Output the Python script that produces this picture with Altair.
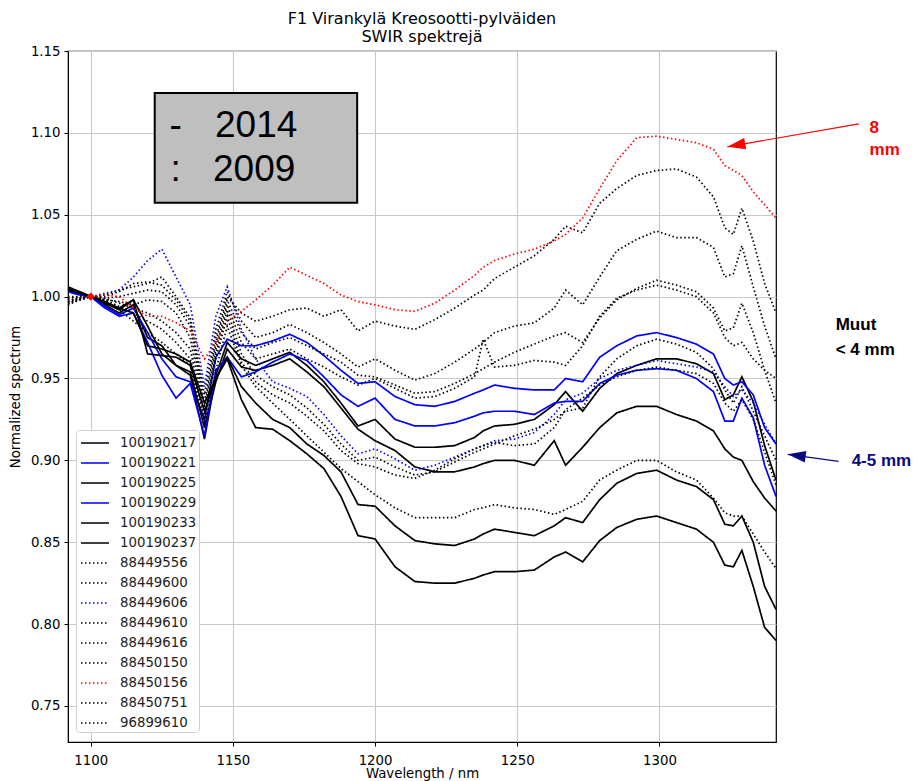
import altair as alt
import pandas as pd

# ---------------- data ----------------
wavelength = [1092, 1096, 1100, 1105, 1110, 1115, 1120, 1125, 1130, 1135, 1140, 1144, 1148,
              1153, 1158, 1164, 1170, 1176, 1182, 1188,
              1194, 1200, 1207, 1214, 1221, 1228, 1235, 1238, 1242, 1249, 1256, 1263, 1267,
              1273, 1279, 1285, 1292, 1299, 1306, 1313, 1319, 1323, 1326, 1329, 1333, 1337, 1341]

series_names = ["100190217", "100190221", "100190225", "100190229", "100190233", "100190237",
                "88449556", "88449600", "88449606", "88449610", "88449616", "88450150",
                "88450156", "88450751", "96899610"]
series_colors = ["#000000", "#0000ff", "#000000", "#0000ff", "#000000", "#000000",
                 "#000000", "#000000", "#0000ff", "#000000", "#000000", "#000000",
                 "#ff0000", "#000000", "#000000"]
solid = [1, 0]
dotted = [1.5, 2.5]
series_dashes = [solid] * 6 + [dotted] * 9

s_100190217 = [1.006, 1.003, 1.000, 0.995, 0.990, 0.995, 0.975, 0.970, 0.958, 0.952, 0.913, 0.952, 0.972,
               0.962, 0.958, 0.962, 0.966, 0.958, 0.948, 0.935,
               0.921, 0.925, 0.913, 0.908, 0.908, 0.909, 0.914, 0.918, 0.921, 0.922, 0.925, 0.934, 0.942,
               0.930, 0.944, 0.953, 0.958, 0.962, 0.962, 0.959, 0.953, 0.937, 0.940, 0.951, 0.936, 0.909, 0.888]
s_100190221 = [1.003, 1.001, 1.000, 0.994, 0.989, 0.993, 0.978, 0.962, 0.951, 0.948, 0.925, 0.963, 0.974,
               0.970, 0.970, 0.973, 0.977, 0.972, 0.964, 0.955,
               0.947, 0.948, 0.939, 0.934, 0.933, 0.936, 0.941, 0.943, 0.946, 0.944, 0.943, 0.943, 0.950,
               0.948, 0.963, 0.970, 0.976, 0.978, 0.975, 0.971, 0.965, 0.950, 0.946, 0.948, 0.940, 0.920, 0.910]
s_100190225 = [1.005, 1.003, 1.000, 0.996, 0.993, 0.998, 0.982, 0.965, 0.958, 0.954, 0.920, 0.948, 0.968,
               0.957, 0.955, 0.958, 0.962, 0.954, 0.945, 0.932,
               0.919, 0.912, 0.906, 0.896, 0.893, 0.893, 0.896, 0.898, 0.900, 0.900, 0.897, 0.912, 0.897,
               0.908, 0.920, 0.929, 0.933, 0.933, 0.928, 0.924, 0.918, 0.907, 0.902, 0.900, 0.887, 0.877, 0.869]
s_100190229 = [1.004, 1.002, 1.000, 0.993, 0.988, 0.990, 0.972, 0.952, 0.938, 0.947, 0.915, 0.955, 0.963,
               0.951, 0.954, 0.960, 0.965, 0.961, 0.951, 0.940,
               0.933, 0.938, 0.925, 0.921, 0.921, 0.923, 0.927, 0.929, 0.930, 0.930, 0.928, 0.935, 0.936,
               0.936, 0.947, 0.952, 0.955, 0.956, 0.955, 0.950, 0.942, 0.924, 0.924, 0.938, 0.926, 0.897, 0.878]
s_100190233 = [1.004, 1.002, 1.000, 0.996, 0.992, 0.998, 0.965, 0.964, 0.963, 0.958, 0.930, 0.950, 0.963,
               0.945, 0.935, 0.925, 0.920, 0.910, 0.903, 0.893,
               0.873, 0.872, 0.860, 0.851, 0.849, 0.848, 0.852, 0.855, 0.858, 0.856, 0.854, 0.860, 0.865,
               0.862, 0.876, 0.886, 0.892, 0.894, 0.888, 0.884, 0.876, 0.861, 0.860, 0.866, 0.850, 0.823, 0.809]
s_100190237 = [1.005, 1.003, 1.000, 0.997, 0.993, 0.990, 0.970, 0.968, 0.965, 0.960, 0.935, 0.950, 0.962,
               0.937, 0.920, 0.919, 0.912, 0.904, 0.895, 0.878,
               0.854, 0.852, 0.835, 0.826, 0.825, 0.825, 0.828, 0.830, 0.832, 0.832, 0.833, 0.841, 0.844,
               0.838, 0.851, 0.859, 0.864, 0.866, 0.862, 0.858, 0.850, 0.836, 0.835, 0.845, 0.823, 0.798, 0.790]
s_88449556 = [1.000, 1.000, 1.000, 1.000, 1.003, 1.008, 1.009, 1.007, 0.998, 0.985, 0.935, 0.975, 1.000,
              0.990, 0.985, 0.988, 0.992, 0.993, 0.988, 0.992,
              0.979, 0.985, 0.982, 0.980, 0.986, 0.993, 1.001, 1.004, 1.011, 1.018, 1.025, 1.035, 1.043,
              1.039, 1.057, 1.066, 1.074, 1.077, 1.078, 1.073, 1.061, 1.042, 1.038, 1.054, 1.034, 1.008, 0.990]
s_88449600 = [0.996, 0.998, 1.000, 1.001, 1.004, 1.006, 1.008, 1.012, 1.000, 0.987, 0.940, 0.980, 1.003,
              0.985, 0.975, 0.978, 0.983, 0.978, 0.972, 0.965,
              0.957, 0.962, 0.955, 0.949, 0.953, 0.960, 0.968, 0.972, 0.978, 0.982, 0.984, 0.993, 1.004,
              0.995, 1.012, 1.028, 1.035, 1.040, 1.036, 1.036, 1.030, 1.012, 1.014, 1.031, 1.006, 0.982, 0.962]
s_88449606 = [0.997, 0.999, 1.000, 1.002, 1.004, 1.012, 1.022, 1.029, 1.012, 0.995, 0.945, 0.988, 1.006,
              0.980, 0.962, 0.948, 0.944, 0.939, 0.928, 0.915,
              0.904, 0.907, 0.901, 0.894, 0.897, 0.902, 0.907, 0.909, 0.912, 0.913, 0.917, 0.928, 0.937,
              0.941, 0.950, 0.955, 0.958, 0.961, 0.959, 0.957, 0.954, 0.945, 0.939, 0.943, 0.935, 0.922, 0.910]
s_88449610 = [0.998, 0.999, 1.000, 0.999, 1.000, 1.002, 1.004, 1.003, 0.995, 0.982, 0.932, 0.972, 0.998,
              0.978, 0.968, 0.972, 0.975, 0.970, 0.965, 0.960,
              0.952, 0.951, 0.946, 0.941, 0.942, 0.947, 0.953, 0.956, 0.960, 0.966, 0.971, 0.976, 0.978,
              0.972, 0.987, 0.998, 1.005, 1.010, 1.007, 1.003, 0.993, 0.979, 0.981, 0.996, 0.978, 0.955, 0.935]
s_88449616 = [0.995, 0.998, 1.000, 0.998, 0.997, 0.995, 0.998, 0.997, 0.990, 0.975, 0.928, 0.968, 0.995,
              0.972, 0.962, 0.965, 0.968, 0.962, 0.957, 0.951,
              0.946, 0.950, 0.944, 0.938, 0.939, 0.944, 0.951, 0.974, 0.957, 0.958, 0.961, 0.960, 0.958,
              0.970, 0.988, 0.999, 1.004, 1.007, 1.004, 1.000, 0.990, 0.975, 0.970, 0.972, 0.962, 0.955, 0.950]
s_88450150 = [0.999, 1.000, 1.000, 0.999, 0.996, 0.993, 0.990, 0.985, 0.978, 0.968, 0.925, 0.965, 0.992,
              0.965, 0.952, 0.945, 0.940, 0.932, 0.922, 0.910,
              0.900, 0.902, 0.896, 0.891, 0.893, 0.899, 0.905, 0.907, 0.910, 0.915, 0.919, 0.925, 0.930,
              0.932, 0.951, 0.962, 0.970, 0.974, 0.971, 0.966, 0.956, 0.943, 0.935, 0.945, 0.930, 0.915, 0.900]
s_88450156 = [0.997, 0.999, 1.000, 1.001, 1.000, 0.993, 0.988, 0.988, 0.984, 0.979, 0.962, 0.972, 0.985,
              0.991, 0.998, 1.007, 1.018, 1.013, 1.008, 1.001,
              0.997, 0.995, 0.992, 0.991, 0.996, 1.004, 1.013, 1.018, 1.022, 1.026, 1.029, 1.034, 1.038,
              1.048, 1.066, 1.083, 1.097, 1.098, 1.096, 1.094, 1.090, 1.080, 1.077, 1.074, 1.064, 1.056, 1.048]
s_88450751 = [0.997, 0.999, 1.000, 0.998, 0.994, 0.990, 0.985, 0.980, 0.972, 0.962, 0.922, 0.962, 0.988,
              0.960, 0.948, 0.940, 0.935, 0.927, 0.918, 0.906,
              0.898, 0.896, 0.891, 0.889, 0.894, 0.901, 0.907, 0.909, 0.911, 0.909, 0.910, 0.920, 0.931,
              0.938, 0.946, 0.951, 0.955, 0.957, 0.955, 0.953, 0.947, 0.935, 0.930, 0.937, 0.925, 0.905, 0.885]
s_96899610 = [0.996, 0.998, 1.000, 0.997, 0.992, 0.985, 0.978, 0.972, 0.965, 0.958, 0.920, 0.955, 0.982,
              0.958, 0.945, 0.935, 0.925, 0.915, 0.905, 0.895,
              0.887, 0.879, 0.871, 0.865, 0.865, 0.865, 0.870, 0.871, 0.873, 0.871, 0.870, 0.867, 0.870,
              0.875, 0.888, 0.894, 0.900, 0.900, 0.893, 0.888, 0.877, 0.868, 0.866, 0.866, 0.855, 0.844, 0.834]

series_values = [s_100190217, s_100190221, s_100190225, s_100190229, s_100190233, s_100190237,
                 s_88449556, s_88449600, s_88449606, s_88449610, s_88449616, s_88450150,
                 s_88450156, s_88450751, s_96899610]

x_ticks = [1100, 1150, 1200, 1250, 1300]
y_ticks = [0.75, 0.80, 0.85, 0.90, 0.95, 1.00, 1.05, 1.10, 1.15]

# reference point (red diamond)
ref_point_x = [1100]
ref_point_y = [1.0]

# annotation box ("-  2014" / ":  2009")
box_x = [1122.5]
box_x2 = [1193.7]
box_y = [1.1244]
box_y2 = [1.0573]
box_sym_text = ["-", ":"]
box_sym_x = [1129.9, 1129.9]
box_year_text = ["2014", "2009"]
box_year_x = [1143.7, 1143.0]
box_text_y = [1.1043, 1.0774]

# side annotations
note_text = ["8", "mm", "Muut", "< 4 mm", "4-5 mm"]
note_x = [1373.9, 1373.9, 1362.0, 1362.0, 1367.6]
note_y = [1.1030, 1.0896, 0.9829, 0.9677, 0.8994]
note_color = ["#ff0000", "#ff0000", "#000000", "#000000", "#0a0a80"]

arrow_x = [1370.1, 1363.0]
arrow_y = [1.1055, 0.8994]
arrow_x2 = [1323.9, 1345.1]
arrow_y2 = [1.0915, 0.9037]
arrow_angle = [170.0, 187.8]
arrow_color = ["#ff0000", "#0a0a80"]

# ---------------- build tables ----------------
rows = []
for name, vals in zip(series_names, series_values):
    for w, v in zip(wavelength, vals):
        rows.append({"series": name, "wavelength": w, "value": v})
df = pd.DataFrame(rows)

xscale = alt.Scale(domain=[1092, 1341], nice=False, zero=False)
yscale = alt.Scale(domain=[0.728, 1.15], nice=False, zero=False)

legend = alt.Legend(
    title=None, orient="none", legendX=8, legendY=379,
    symbolType="M-1.4,0H1.4", symbolSize=400, symbolStrokeWidth=1.7,
    symbolOffset=6, labelOffset=14, padding=2, rowPadding=2,
    labelFont="DejaVu Sans", labelFontSize=13.3, labelColor="#222222",
    fillColor="white", strokeColor="#d0d0d0", cornerRadius=3,
)

lines = alt.Chart(df).mark_line(strokeWidth=1.7).encode(
    x=alt.X("wavelength:Q", scale=xscale,
            axis=alt.Axis(values=x_ticks, title="Wavelength / nm", format="d")),
    y=alt.Y("value:Q", scale=yscale,
            axis=alt.Axis(values=y_ticks, title="Normalized spectrum", format=".2f")),
    color=alt.Color("series:N", scale=alt.Scale(domain=series_names, range=series_colors), legend=legend),
    strokeDash=alt.StrokeDash("series:N", scale=alt.Scale(domain=series_names, range=series_dashes),
                              legend=legend),
)

ref_df = pd.DataFrame({"x": ref_point_x, "y": ref_point_y})
ref = alt.Chart(ref_df).mark_point(shape="diamond", filled=True, color="#ff0000", size=70, opacity=1).encode(
    x=alt.X("x:Q", scale=xscale), y=alt.Y("y:Q", scale=yscale))

box_df = pd.DataFrame({"x": box_x, "x2": box_x2, "y": box_y, "y2": box_y2})
box = alt.Chart(box_df).mark_rect(fill="#bfbfbf", stroke="#000000", strokeWidth=2).encode(
    x=alt.X("x:Q", scale=xscale), x2="x2:Q", y=alt.Y("y:Q", scale=yscale), y2="y2:Q")

sym_df = pd.DataFrame({"t": box_sym_text, "x": box_sym_x, "y": box_text_y})
sym = alt.Chart(sym_df).mark_text(font="Liberation Sans", fontSize=37, align="center",
                                  baseline="middle", color="#000000").encode(
    x=alt.X("x:Q", scale=xscale), y=alt.Y("y:Q", scale=yscale), text="t:N")

year_df = pd.DataFrame({"t": box_year_text, "x": box_year_x, "y": box_text_y})
year = alt.Chart(year_df).mark_text(font="Liberation Sans", fontSize=37, align="left",
                                    baseline="middle", color="#000000").encode(
    x=alt.X("x:Q", scale=xscale), y=alt.Y("y:Q", scale=yscale), text="t:N")

note_df = pd.DataFrame({"t": note_text, "x": note_x, "y": note_y, "c": note_color})
notes = alt.Chart(note_df).mark_text(font="Liberation Sans", fontSize=17, fontWeight="bold",
                                     align="left", baseline="middle").encode(
    x=alt.X("x:Q", scale=xscale), y=alt.Y("y:Q", scale=yscale), text="t:N",
    color=alt.Color("c:N", scale=None))

arrow_df = pd.DataFrame({"x": arrow_x, "y": arrow_y, "x2": arrow_x2, "y2": arrow_y2,
                         "a": arrow_angle, "c": arrow_color})
arrow_lines = alt.Chart(arrow_df).mark_rule(strokeWidth=1.2).encode(
    x=alt.X("x:Q", scale=xscale), y=alt.Y("y:Q", scale=yscale), x2="x2:Q", y2="y2:Q",
    color=alt.Color("c:N", scale=None))
arrow_heads = alt.Chart(arrow_df).mark_point(shape="M0,0L-2.2,-0.7L-2.2,0.7Z", filled=True,
                                             size=270, opacity=1).encode(
    x=alt.X("x2:Q", scale=xscale), y=alt.Y("y2:Q", scale=yscale),
    angle=alt.Angle("a:Q", scale=None), color=alt.Color("c:N", scale=None))

chart = alt.layer(lines, ref, box, sym, year, arrow_lines, arrow_heads, notes).properties(
    width=708, height=691,
    padding={"left": 60, "top": 43, "right": 135, "bottom": 40},
    autosize=alt.AutoSizeParams(type="none"),
    title=alt.TitleParams(["F1 Virankylä Kreosootti-pylväiden", "SWIR spektrejä"],
                          font="DejaVu Sans", fontSize=16, fontWeight="normal", color="#000000",
                          anchor="middle", offset=-1, lineHeight=18),
).configure_view(stroke="#000000", strokeWidth=1.2).configure_axis(
    labelFont="DejaVu Sans", labelFontSize=13.3, labelColor="#000000",
    titleFont="DejaVu Sans", titleFontSize=13.3, titleFontWeight="normal", titleColor="#000000",
    tickColor="#000000", tickSize=4, domainColor="#000000",
    gridColor="#c8c8c8", gridWidth=1.1,
).configure_axisY(titlePadding=8, labelPadding=4).configure_axisX(titlePadding=0, labelPadding=7)

chart.save("out.html", embed_options={"renderer": "svg", "actions": False})
